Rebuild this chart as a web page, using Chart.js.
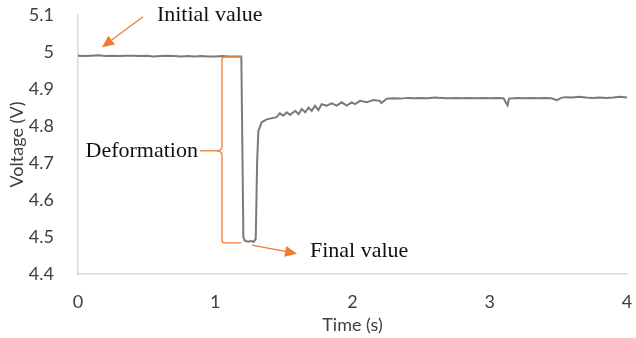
<!DOCTYPE html>
<html>
<head>
<meta charset="utf-8">
<script src="https://cdn.jsdelivr.net/npm/chart.js@4"></script>
<style>
  html, body { margin: 0; padding: 0; background: #fff; }
  #wrap { width: 636px; height: 338px; }
</style>
</head>
<body>
<div id="wrap"><canvas id="voltChart"></canvas></div>
<script>
/* ===============================
   Data
================================ */
const times = [
  0, 0.05, 0.1, 0.15, 0.2, 0.25, 0.3, 0.35, 0.4, 0.45, 0.5, 0.55, 0.6, 0.65, 0.7, 0.75,
  0.8, 0.85, 0.9, 0.95, 1.0, 1.05, 1.1, 1.15, 1.19,
  1.205, 1.215, 1.24, 1.26, 1.28, 1.295, 1.305, 1.314,
  1.338, 1.375, 1.447, 1.47, 1.496, 1.52, 1.545, 1.583, 1.607, 1.63, 1.656, 1.68,
  1.703, 1.727, 1.751, 1.775, 1.812, 1.848, 1.885, 1.921, 1.958, 1.994, 2.018, 2.055,
  2.103, 2.152, 2.2, 2.21,
  2.25, 2.3, 2.35, 2.4, 2.45, 2.5, 2.55, 2.6, 2.65, 2.7, 2.75, 2.8, 2.85, 2.9, 2.95,
  3.0, 3.05, 3.1, 3.12, 3.13, 3.14, 3.2, 3.25, 3.3, 3.35, 3.4, 3.45, 3.49, 3.52,
  3.55, 3.6, 3.65, 3.7, 3.75, 3.8, 3.85, 3.9, 3.95, 4.0
];
const volts = [
  4.99, 4.989, 4.99, 4.991, 4.989, 4.99, 4.989, 4.99, 4.99, 4.989, 4.99, 4.988, 4.989, 4.99, 4.989, 4.988,
  4.989, 4.988, 4.989, 4.988, 4.988, 4.989, 4.988, 4.988, 4.988,
  4.5, 4.49, 4.487, 4.489, 4.487, 4.495, 4.7, 4.786,
  4.81, 4.818, 4.824, 4.834, 4.828, 4.837, 4.83, 4.841, 4.832, 4.846, 4.837, 4.85,
  4.841, 4.855, 4.843, 4.859, 4.855, 4.861, 4.855, 4.864, 4.855, 4.864, 4.859, 4.868,
  4.864, 4.87, 4.868, 4.862,
  4.874, 4.875, 4.874, 4.876, 4.875, 4.876, 4.875, 4.877, 4.876, 4.875, 4.876, 4.875, 4.876, 4.875, 4.876,
  4.875, 4.876, 4.875, 4.862, 4.856, 4.874, 4.876, 4.875, 4.876, 4.875, 4.876, 4.875, 4.87, 4.876,
  4.878, 4.877, 4.879, 4.877, 4.876, 4.877, 4.876, 4.877, 4.879, 4.877
];
const xTicks = [0, 1, 2, 3, 4];
const yTicks = [4.4, 4.5, 4.6, 4.7, 4.8, 4.9, 5, 5.1];

/* ===============================
   Annotations (orange callouts)
================================ */
const ORANGE = "#ED7D31";

function arrow(ctx, x1, y1, x2, y2) {
  const ang = Math.atan2(y2 - y1, x2 - x1);
  const len = 12, half = 5.5;
  const bx = x2 - len * Math.cos(ang), by = y2 - len * Math.sin(ang);
  ctx.beginPath();
  ctx.moveTo(x1, y1);
  ctx.lineTo(bx, by);
  ctx.stroke();
  ctx.beginPath();
  ctx.moveTo(x2, y2);
  ctx.lineTo(bx + half * Math.sin(ang), by - half * Math.cos(ang));
  ctx.lineTo(bx - half * Math.sin(ang), by + half * Math.cos(ang));
  ctx.closePath();
  ctx.fill();
}

const calloutPlugin = {
  id: "callouts",
  afterDatasetsDraw(chart) {
    const { ctx, scales } = chart;
    const X = (t) => scales.x.getPixelForValue(t);
    const Y = (v) => scales.y.getPixelForValue(v);
    ctx.save();
    ctx.strokeStyle = ORANGE;
    ctx.fillStyle = ORANGE;
    ctx.lineWidth = 1.3;

    // initial value arrow
    arrow(ctx, X(0.474), Y(5.095), X(0.175), Y(5.013));

    // brace for deformation
    const bx = X(1.049), top = Y(4.987), bot = Y(4.484), mid = Y(4.733);
    ctx.beginPath();
    ctx.moveTo(X(1.195), top);
    ctx.lineTo(bx + 3, top);
    ctx.quadraticCurveTo(bx, top, bx, top + 3);
    ctx.lineTo(bx, mid - 4);
    ctx.quadraticCurveTo(bx, mid, bx - 6, mid);
    ctx.quadraticCurveTo(bx, mid, bx, mid + 4);
    ctx.lineTo(bx, bot - 3);
    ctx.quadraticCurveTo(bx, bot, bx + 3, bot);
    ctx.lineTo(X(1.19), bot);
    ctx.stroke();
    ctx.beginPath();
    ctx.moveTo(X(0.889), mid);
    ctx.lineTo(bx - 6, mid);
    ctx.stroke();

    // final value arrow
    arrow(ctx, X(1.268), Y(4.478), X(1.596), Y(4.455));

    // texts
    ctx.fillStyle = "#111";
    ctx.font = '22px "Liberation Serif", "DejaVu Serif", serif';
    ctx.textBaseline = "middle";
    ctx.textAlign = "left";
    ctx.fillText("Initial value", X(0.575), Y(5.1));
    ctx.fillText("Final value", X(1.69), Y(4.462));
    ctx.textAlign = "right";
    ctx.fillText("Deformation", X(0.874), mid);
    ctx.restore();
  },
};

/* ===============================
   Chart
================================ */
const axisColor = "#d9d9d9";
const labelColor = "#404040";
const tickFont = { family: "Lato, 'Liberation Sans', sans-serif", size: 18 };

new Chart(document.getElementById("voltChart"), {
  type: "line",
  data: {
    labels: times,
    datasets: [
      {
        data: times.map((t, i) => ({ x: t, y: volts[i] })),
        borderColor: "#7a7a7a",
        borderWidth: 2,
        pointRadius: 0,
        tension: 0,
        fill: false,
      },
    ],
  },
  options: {
    responsive: true,
    maintainAspectRatio: false,
    animation: false,
    layout: { padding: { top: 15, right: 9, left: 0, bottom: 0 } },
    plugins: {
      legend: { display: false },
      tooltip: { enabled: false },
    },
    scales: {
      x: {
        type: "linear",
        min: 0,
        max: 4,
        afterBuildTicks: (s) => { s.ticks = xTicks.map((v) => ({ value: v })); },
        afterFit: (s) => { s.height = 64; s.paddingLeft = 0; s.paddingRight = 0; },
        grid: { display: false },
        border: { display: true, color: axisColor, width: 1.5 },
        ticks: { color: labelColor, font: tickFont, padding: 9, maxRotation: 0 },
        title: {
          display: true,
          text: "Time (s)",
          color: labelColor,
          font: tickFont,
          padding: { top: 0, bottom: 2 },
        },
      },
      y: {
        min: 4.4,
        max: 5.1,
        afterBuildTicks: (s) => { s.ticks = yTicks.map((v) => ({ value: v })); },
        afterFit: (s) => { s.width = 78; s.paddingTop = 0; s.paddingBottom = 0; },
        grid: { display: false },
        border: { display: true, color: axisColor, width: 1.5 },
        ticks: {
          color: labelColor,
          font: tickFont,
          padding: 16,
          callback: (v) => String(Math.round(v * 10) / 10),
        },
        title: {
          display: true,
          text: "Voltage (V)",
          color: labelColor,
          font: tickFont,
          padding: { top: 6, bottom: 0 },
        },
      },
    },
  },
  plugins: [calloutPlugin],
});
</script>
</body>
</html>
